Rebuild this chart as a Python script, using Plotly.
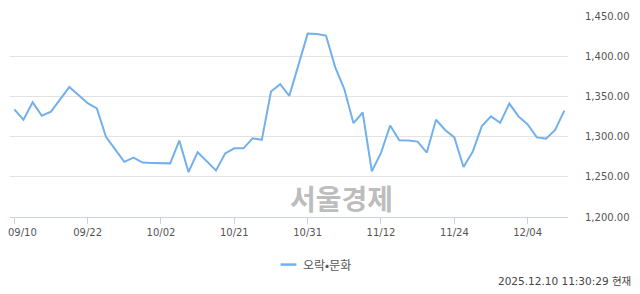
import plotly.graph_objects as go

dates = [
    "09/10", "09/11", "09/12", "09/15", "09/16", "09/17", "09/18", "09/19", "09/22", "09/23",
    "09/24", "09/25", "09/26", "09/29", "09/30", "10/01", "10/02", "10/10", "10/13", "10/14",
    "10/15", "10/16", "10/17", "10/20", "10/21", "10/22", "10/23", "10/24", "10/27", "10/28",
    "10/29", "10/30", "10/31", "11/03", "11/04", "11/05", "11/06", "11/07", "11/10", "11/11",
    "11/12", "11/13", "11/14", "11/17", "11/18", "11/19", "11/20", "11/21", "11/24", "11/25",
    "11/26", "11/27", "11/28", "12/01", "12/02", "12/03", "12/04", "12/05", "12/08", "12/09",
    "12/10",
]
values = [
    1333.9, 1321.0, 1342.7, 1325.9, 1331.0, 1346.0, 1361.6, 1351.6, 1341.5, 1335.0,
    1299.8, 1284.0, 1268.6, 1274.0, 1267.7, 1267.3, 1267.0, 1266.7, 1295.0, 1256.0,
    1280.6, 1269.0, 1258.0, 1279.0, 1285.4, 1285.4, 1297.8, 1296.0, 1356.0, 1365.2,
    1350.7, 1389.2, 1428.1, 1427.7, 1425.7, 1386.4, 1359.2, 1316.7, 1330.0, 1256.9,
    1279.8, 1313.8, 1295.4, 1295.0, 1293.8, 1280.1, 1321.0, 1308.3, 1299.0, 1262.1,
    1281.0, 1313.1, 1325.1, 1317.1, 1341.1, 1325.1, 1315.1, 1299.0, 1297.5, 1308.3,
    1332.3,
]
x_ticks = ["09/10", "09/22", "10/02", "10/21", "10/31", "11/12", "11/24", "12/04"]
y_ticks = [1200, 1250, 1300, 1350, 1400, 1450]
series_name = "오락•문화"
timestamp = "2025.12.10 11:30:29 현재"
watermark = "서울경제"

LINE_COLOR = "#74b0ea"
TEXT_COLOR = "#555555"

xs = list(range(len(dates)))
tick_pos = [dates.index(t) for t in x_ticks]
# first label is drawn separately (shifted inward, as in the original)
tick_text = [""] + x_ticks[1:]

# plot area in pixels: left 10, right 573, top 10, bottom 217
def px_x(px):
    return (px - 10) / 563

def px_y(py):
    return (217 - py) / 207

fig = go.Figure()
fig.add_trace(go.Scatter(
    x=xs, y=values, mode="lines", name=series_name,
    line=dict(color=LINE_COLOR, width=2), showlegend=False,
))

fig.update_layout(
    width=640, height=294,
    margin=dict(l=10, r=67, t=10, b=77),
    paper_bgcolor="white", plot_bgcolor="white",
    font=dict(family="DejaVu Sans, Noto Sans CJK KR", size=10, color=TEXT_COLOR),
    showlegend=False,
    xaxis=dict(
        range=[-0.47, 60.4],
        tickmode="array", tickvals=tick_pos, ticktext=tick_text,
        showgrid=False, zeroline=False,
        showline=True, linecolor="#c8d2e2", linewidth=1,
        ticks="outside", ticklen=6, tickcolor="#c8d2e2",
        tickfont=dict(size=10, color=TEXT_COLOR),
    ),
    yaxis=dict(
        range=[1200, 1450], side="right",
        tickmode="array", tickvals=y_ticks, tickformat=",.2f",
        showgrid=True, gridcolor="#e3e3e3", zeroline=False,
        ticks="", ticklabelstandoff=16,
        tickfont=dict(size=10, color=TEXT_COLOR),
    ),
    shapes=[
        dict(type="line", xref="paper", yref="paper",
             x0=px_x(283), x1=px_x(299), y0=px_y(266), y1=px_y(266),
             line=dict(color=LINE_COLOR, width=2.5)),
    ],
    annotations=[
        dict(text=x_ticks[0], xref="x", yref="paper",
             x=tick_pos[0], y=px_y(232.5), xshift=8.5,
             xanchor="center", yanchor="middle", showarrow=False,
             font=dict(size=10, color=TEXT_COLOR)),
        dict(text=series_name, xref="paper", yref="paper",
             x=px_x(304), y=px_y(266),
             xanchor="left", yanchor="middle", showarrow=False,
             font=dict(family="Noto Sans CJK KR", size=12, color=TEXT_COLOR)),
        dict(text=watermark, xref="paper", yref="paper",
             x=px_x(344), y=px_y(197),
             xanchor="center", yanchor="middle", showarrow=False,
             font=dict(family="Noto Sans CJK KR", size=28, color="#bdbdbd", weight="bold")),
        dict(text=timestamp, xref="paper", yref="paper",
             x=px_x(639), y=px_y(282.7),
             xanchor="right", yanchor="middle", showarrow=False,
             font=dict(family="DejaVu Sans, Noto Sans CJK KR", size=10.5, color="#444444")),
    ],
)

fig.write_html("out.html")
